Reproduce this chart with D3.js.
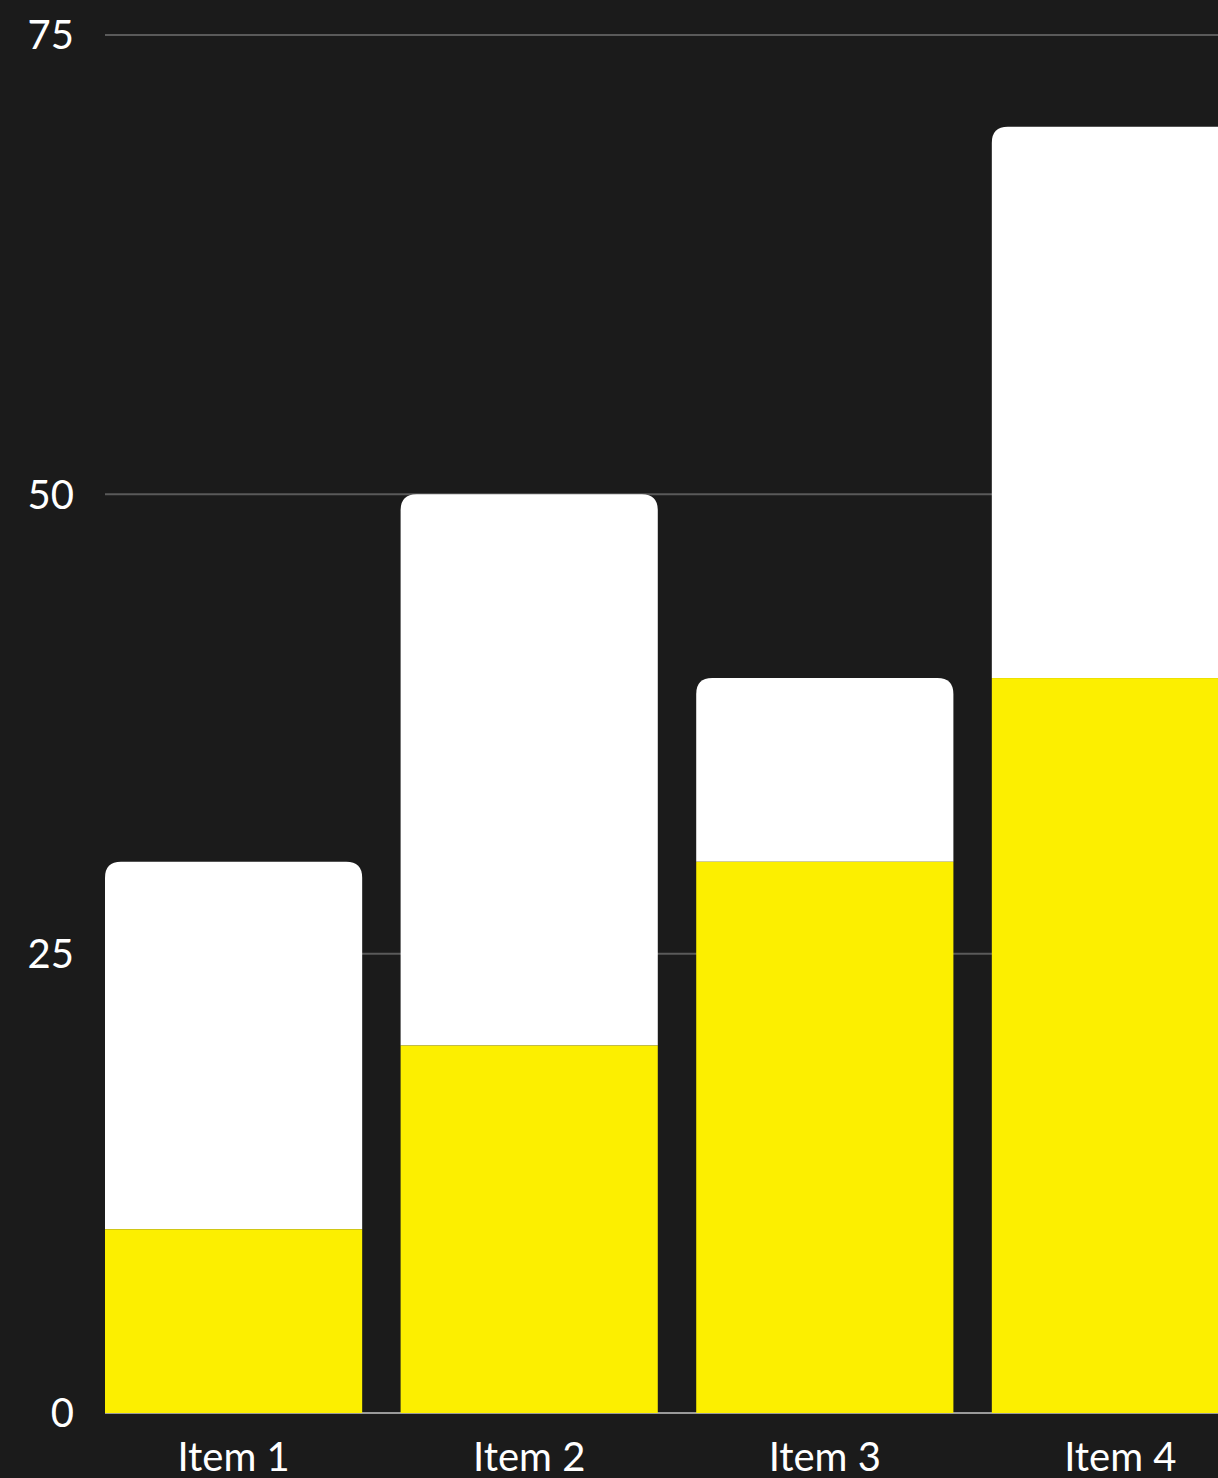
<!DOCTYPE html>
<html>
<head>
<meta charset="utf-8">
<script src="https://cdn.jsdelivr.net/npm/d3@7"></script>
<style>
  html, body { margin: 0; padding: 0; background: #1b1b1b; overflow: hidden; }
  svg { display: block; }
  text { font-family: Lato, "Open Sans", sans-serif; fill: #ffffff; }
</style>
</head>
<body>
<svg id="chart"></svg>
<script>
const categories = ["Item 1", "Item 2", "Item 3", "Item 4"];
const yellowValues = [10, 20, 30, 40];
const whiteValues = [20, 30, 10, 30];
const yTicks = [0, 25, 50, 75];

const width = 1218;
const height = 1478;
const margin = { top: 35, left: 105, bottom: 65 };

const svg = d3.select("#chart")
  .attr("width", width)
  .attr("height", height);

const x = d3.scaleBand()
  .domain(categories)
  .range([margin.left, 1249])
  .paddingInner(0.13)
  .paddingOuter(0);

const y = d3.scaleLinear()
  .domain([0, 75])
  .range([height - margin.bottom, margin.top]);

// grid
svg.append("g")
  .selectAll("line")
  .data(yTicks.filter(d => d > 0))
  .enter()
  .append("line")
  .attr("x1", margin.left)
  .attr("x2", width)
  .attr("y1", d => y(d))
  .attr("y2", d => y(d))
  .attr("stroke", "#5a5a5a")
  .attr("stroke-width", 2);

// baseline (behind the bars)
svg.append("line")
  .attr("x1", margin.left)
  .attr("x2", width)
  .attr("y1", y(0))
  .attr("y2", y(0))
  .attr("stroke", "#9a9a9a")
  .attr("stroke-width", 2);

// y labels
svg.append("g")
  .selectAll("text")
  .data(yTicks)
  .enter()
  .append("text")
  .attr("x", 74)
  .attr("y", d => y(d))
  .attr("dy", "0.36em")
  .attr("text-anchor", "end")
  .style("font-size", "40px")
  .text(d => d);

const data = categories.map((c, i) => ({ cat: c, a: yellowValues[i], b: whiteValues[i] }));

// top segment with rounded corners
function topPath(x0, w, yTop, yBot, r) {
  return `M${x0},${yBot}V${yTop + r}Q${x0},${yTop} ${x0 + r},${yTop}` +
    `H${x0 + w - r}Q${x0 + w},${yTop} ${x0 + w},${yTop + r}V${yBot}Z`;
}

svg.append("g")
  .selectAll("path")
  .data(data)
  .enter()
  .append("path")
  .attr("d", d => topPath(x(d.cat), x.bandwidth(), y(d.a + d.b), y(d.a), 16))
  .attr("fill", "#ffffff");

svg.append("g")
  .selectAll("rect")
  .data(data)
  .enter()
  .append("rect")
  .attr("x", d => x(d.cat))
  .attr("width", x.bandwidth())
  .attr("y", d => y(d.a))
  .attr("height", d => y(0) - y(d.a))
  .attr("fill", "#fcef00");

// x labels
svg.append("g")
  .selectAll("text")
  .data(categories)
  .enter()
  .append("text")
  .attr("x", d => x(d) + x.bandwidth() / 2)
  .attr("y", 1471)
  .attr("text-anchor", "middle")
  .style("font-size", "40px")
  .text(d => d);
</script>
</body>
</html>
